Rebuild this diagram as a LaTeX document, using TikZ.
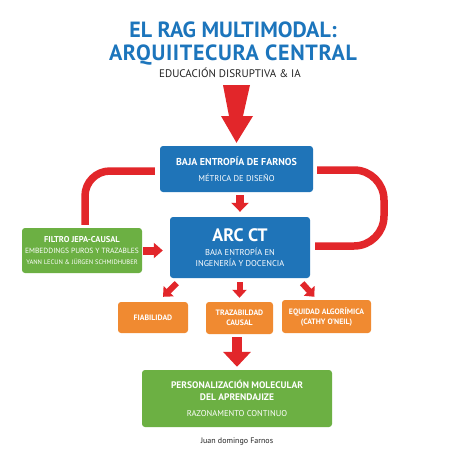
\documentclass[tikz,border=0pt]{standalone}
\usepackage{fontspec}
\setmainfont{PT Sans}
\usetikzlibrary{arrows.meta,calc}
\definecolor{tblue}{HTML}{1C75BC}
\definecolor{bblue}{HTML}{1F74B8}
\definecolor{grn}{HTML}{6CB043}
\definecolor{orng}{HTML}{F08A31}
\definecolor{rd}{HTML}{E2262A}
\definecolor{dk}{HTML}{222222}
\begin{document}
\begin{tikzpicture}[x=1pt,y=-1pt,
  box/.style={rounded corners=3pt, text=white, align=center, inner sep=0pt},
  bluebox/.style={box, fill=bblue},
  greenbox/.style={box, fill=grn},
  orangebox/.style={box, fill=orng, font=\bfseries\fontsize{7.8}{10}\selectfont},
  loopline/.style={draw=rd, line width=7.5pt},
  arr/.style={draw=rd, line width=#1},
  arr/.default=7pt]
\useasboundingbox (0,0) rectangle (467,467);
\fill[white] (0,0) rectangle (467,467);

% titles
\node[text=tblue, align=center, inner sep=0pt,
      font=\bfseries\fontsize{22}{23}\selectfont] (title) at (233,44)
      {EL RAG MULTIMODAL:\\{\addfontfeature{LetterSpace=3}ARQUIITECURA CENTRAL}};
\node[text=dk, inner sep=0pt, font=\fontsize{11}{13}\selectfont] (sub) at (230,72.5)
      {EDUCACIÓN DISRUPTIVA \& IA};

% boxes
\node[bluebox, minimum width=153pt, minimum height=46pt,
      font=\fontsize{8.5}{16}\selectfont] (b1) at (236.5,169)
      {{\bfseries\fontsize{10}{16}\selectfont BAJA ENTROPÍA DE FARNOS}\\MÉTRICA DE DISEÑO};
\node[bluebox, minimum width=140pt, minimum height=61pt,
      font=\fontsize{8.5}{11}\selectfont] (b2) at (240,247.5)
      {{\bfseries\fontsize{18}{20}\selectfont ARC CT}\\[3pt]BAJA ENTROPÍA EN\\INGENERÍA Y DOCENCIA};
\node[greenbox, minimum width=120pt, minimum height=45pt,
      font=\fontsize{7.5}{11}\selectfont] (g1) at (82,250.5)
      {{\bfseries\fontsize{8.5}{11}\selectfont FILTRO JEPA-CAUSAL}\\EMBEDDINGS PUROS Y TRAZABLES\\[0.5pt]{\fontsize{6.5}{11}\selectfont YANN LECUN \& JÜRGEN SCHMIDHUBER}};
\node[orangebox, minimum width=70pt, minimum height=31pt] (o1) at (153,317.5) {FIABILIDAD};
\node[orangebox, minimum width=67pt, minimum height=32pt] (o2) at (239.5,318) {TRAZABILDAD\\CAUSAL};
\node[orangebox, minimum width=89pt, minimum height=33pt] (o3) at (326.5,316.5) {EQUIDAD ALGORÍMICA\\(CATHY O’NEIL)};
\node[greenbox, minimum width=190pt, minimum height=57pt,
      font=\fontsize{8.5}{12}\selectfont] (g2) at (237,398.5)
      {{\bfseries\fontsize{9.5}{12}\selectfont PERSONALIZACIÓN MOLECULAR}\\{\bfseries\fontsize{9.5}{12}\selectfont DEL APRENDAJIZE}\\[4pt]RAZONAMENTO CONTINUO};
\node[text=dk, inner sep=0pt, font=\fontsize{8}{10}\selectfont] (auth) at (237,442) {Juan domingo Farnos};

% top tapered arrow
\coordinate (tA) at (236.5,85);
\fill[rd] ($(tA)+(-13.5,0)$) -- ($(tA)+(13.5,0)$) -- ($(tA)+(6.5,31)$) -- ($(tA)+(16.5,31)$)
  -- ([yshift=3pt]b1.north) -- ($(tA)+(-15.5,31)$) -- ($(tA)+(-7.5,31)$) -- cycle;

% loops
\draw[loopline, rounded corners=25pt] ([xshift=-5pt,yshift=-2pt]b1.west) -| ([yshift=3pt]g1.north -| 85,0);
\draw[loopline, rounded corners=30pt] ([xshift=4pt,yshift=-1pt]b1.east) -- (384,170) -- (384,246)
  -- ([xshift=5pt,yshift=1.5pt]b2.east);

% arrows
\draw[arr=8pt, -{Triangle[width=17pt,length=9pt]}, shorten <=3pt, shorten >=5pt] (b1.south -| b2.north) -- (b2.north);
\draw[arr=8pt, -{Triangle[width=15pt,length=9pt]}, shorten <=1pt, shorten >=7pt] (g1.east) -- (g1.east -| b2.west);
\draw[arr=6pt, -{Triangle[width=14pt,length=8pt]}, shorten <=4pt, shorten >=4pt] (o2.north |- b2.south) -- (o2.north);
\draw[arr=6pt, -{Triangle[width=14pt,length=8pt]}] ([xshift=7pt,yshift=-5pt]b2.south west) -- ([xshift=10pt,yshift=5pt]o1.north);
\draw[arr=6pt, -{Triangle[width=14pt,length=8pt]}] ([xshift=-8pt,yshift=-5pt]b2.south east) -- ([xshift=-12pt,yshift=3pt]o3.north);
\draw[arr=10pt, -{Triangle[width=27pt,length=15pt]}, shorten <=3pt, shorten >=3pt] (g2.north |- o2.south) -- (g2.north);
\end{tikzpicture}
\end{document}
